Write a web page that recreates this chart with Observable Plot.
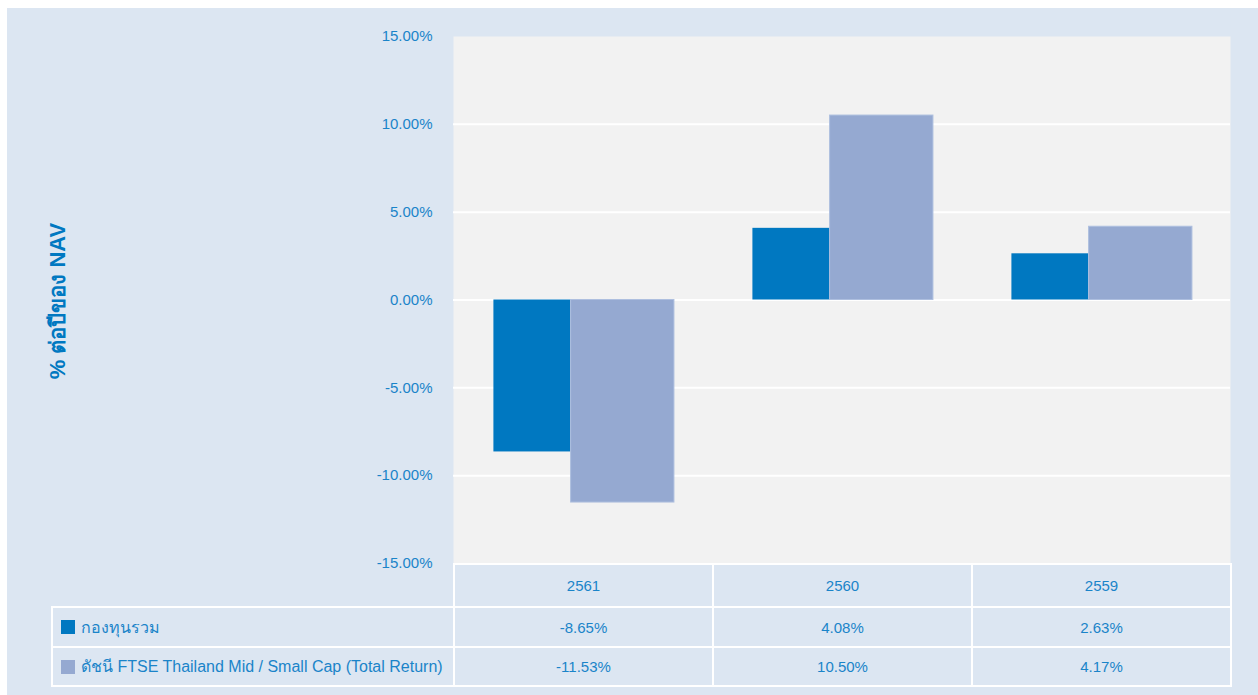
<!DOCTYPE html>
<html><head><meta charset="utf-8">
<script src="https://cdn.jsdelivr.net/npm/d3@7"></script>
<script src="https://cdn.jsdelivr.net/npm/@observablehq/plot@0.6"></script>
<style>
body{margin:0;background:#fff;font-family:Arial,"Liberation Sans",sans-serif;}
#wrap{position:absolute;left:7px;top:8px;width:1251px;height:687px;background:#dce6f2;overflow:hidden}
#wrap svg{position:absolute;left:0;top:0;overflow:visible}
.blk{position:absolute;background:#fff}
.cell{position:absolute;background:#dce6f2;color:#1a84c9;font-size:15px;display:flex;align-items:center;justify-content:center;white-space:nowrap}
.lab{justify-content:flex-start;padding-left:8px;box-sizing:border-box;font-size:16px}
.sw{display:inline-block;width:14px;height:14px;margin-right:6px}
#ylab{position:absolute;left:50px;top:293px;transform:translate(-50%,-50%) rotate(-90deg);white-space:nowrap;font-weight:bold;font-size:22px;color:#0078c1}
</style></head><body><div id="wrap"></div>
<script>
const years = ["2561", "2560", "2559"];
const seriesNames = ["กองทุนรวม", "ดัชนี FTSE Thailand Mid / Small Cap (Total Return)"];
const fundValues = [-8.65, 4.08, 2.63];
const indexValues = [-11.53, 10.50, 4.17];
const yTicks = [-15, -10, -5, 0, 5, 10, 15];
const gridTicks = [-10, -5, 0, 5, 10];
const colors = ["#0078c1", "#95a9d1"];
const yLabel = "% ต่อปีของ NAV";

const fmt = v => v.toFixed(2) + "%";
const fundData = years.map((y, i) => ({year: y, value: fundValues[i]}));
const indexData = years.map((y, i) => ({year: y, value: indexValues[i]}));

const W = 1251, H = 567, mL = 446, mR = 28, mT = 28, mB = 12;
const bw = (W - mL - mR) / years.length;

const chart = Plot.plot({
  width: W, height: H,
  marginLeft: mL, marginRight: mR, marginTop: mT, marginBottom: mB,
  style: {background: "transparent", fontFamily: "Arial, 'Liberation Sans', sans-serif"},
  x: {domain: years, padding: 0, axis: null},
  y: {domain: [-15, 15]},
  marks: [
    Plot.frame({fill: "#f2f2f2", stroke: null}),
    Plot.ruleY(gridTicks, {stroke: "#ffffff", strokeWidth: 2}),
    Plot.barY(fundData, {x: "year", y: "value", fill: colors[0], insetLeft: bw * 0.156, insetRight: bw * 0.546}),
    Plot.barY(indexData, {x: "year", y: "value", fill: colors[1], stroke: "#aebfdf", strokeWidth: 1, insetLeft: bw * 0.454, insetRight: bw * 0.147}),
    Plot.axisY({ticks: yTicks, tickFormat: fmt, tickSize: 0, tickPadding: 21, fontSize: 15, color: "#1a84c9", label: null})
  ]
});
const wrap = document.getElementById("wrap");
wrap.appendChild(chart);

const yl = document.createElement("div");
yl.id = "ylab"; yl.textContent = yLabel;
wrap.appendChild(yl);

// table below the chart, aligned with the x bands
const xs = chart.scale("x");
const plotBottom = H - mB;
const lines = years.map(y => xs.apply(y));
lines.push(xs.apply(years[years.length - 1]) + xs.bandwidth);
const leftLine = 44;
const rowLines = [plotBottom, plotBottom + 43, plotBottom + 83, plotBottom + 122];

function add(cls, l, t, w, h, html) {
  const d = document.createElement("div");
  d.className = cls;
  Object.assign(d.style, {left: l + "px", top: t + "px", width: w + "px", height: h + "px"});
  if (html !== undefined) d.innerHTML = html;
  wrap.appendChild(d);
  return d;
}
add("blk", lines[0], rowLines[0], lines[3] - lines[0] + 2, rowLines[1] - rowLines[0] + 2);
add("blk", leftLine, rowLines[1], lines[3] - leftLine + 2, rowLines[3] - rowLines[1] + 2);
years.forEach((y, i) => add("cell", lines[i] + 2, rowLines[0] + 2, lines[i + 1] - lines[i] - 2, rowLines[1] - rowLines[0] - 2, y));
const rows = [fundValues, indexValues];
rows.forEach((vals, r) => {
  const top = rowLines[r + 1] + 2, h = rowLines[r + 2] - rowLines[r + 1] - 2;
  add("cell lab", leftLine + 2, top, lines[0] - leftLine - 2, h,
      `<span class="sw" style="background:${colors[r]}"></span>${seriesNames[r]}`);
  vals.forEach((v, i) => add("cell", lines[i] + 2, top, lines[i + 1] - lines[i] - 2, h, fmt(v)));
});
</script></body></html>
